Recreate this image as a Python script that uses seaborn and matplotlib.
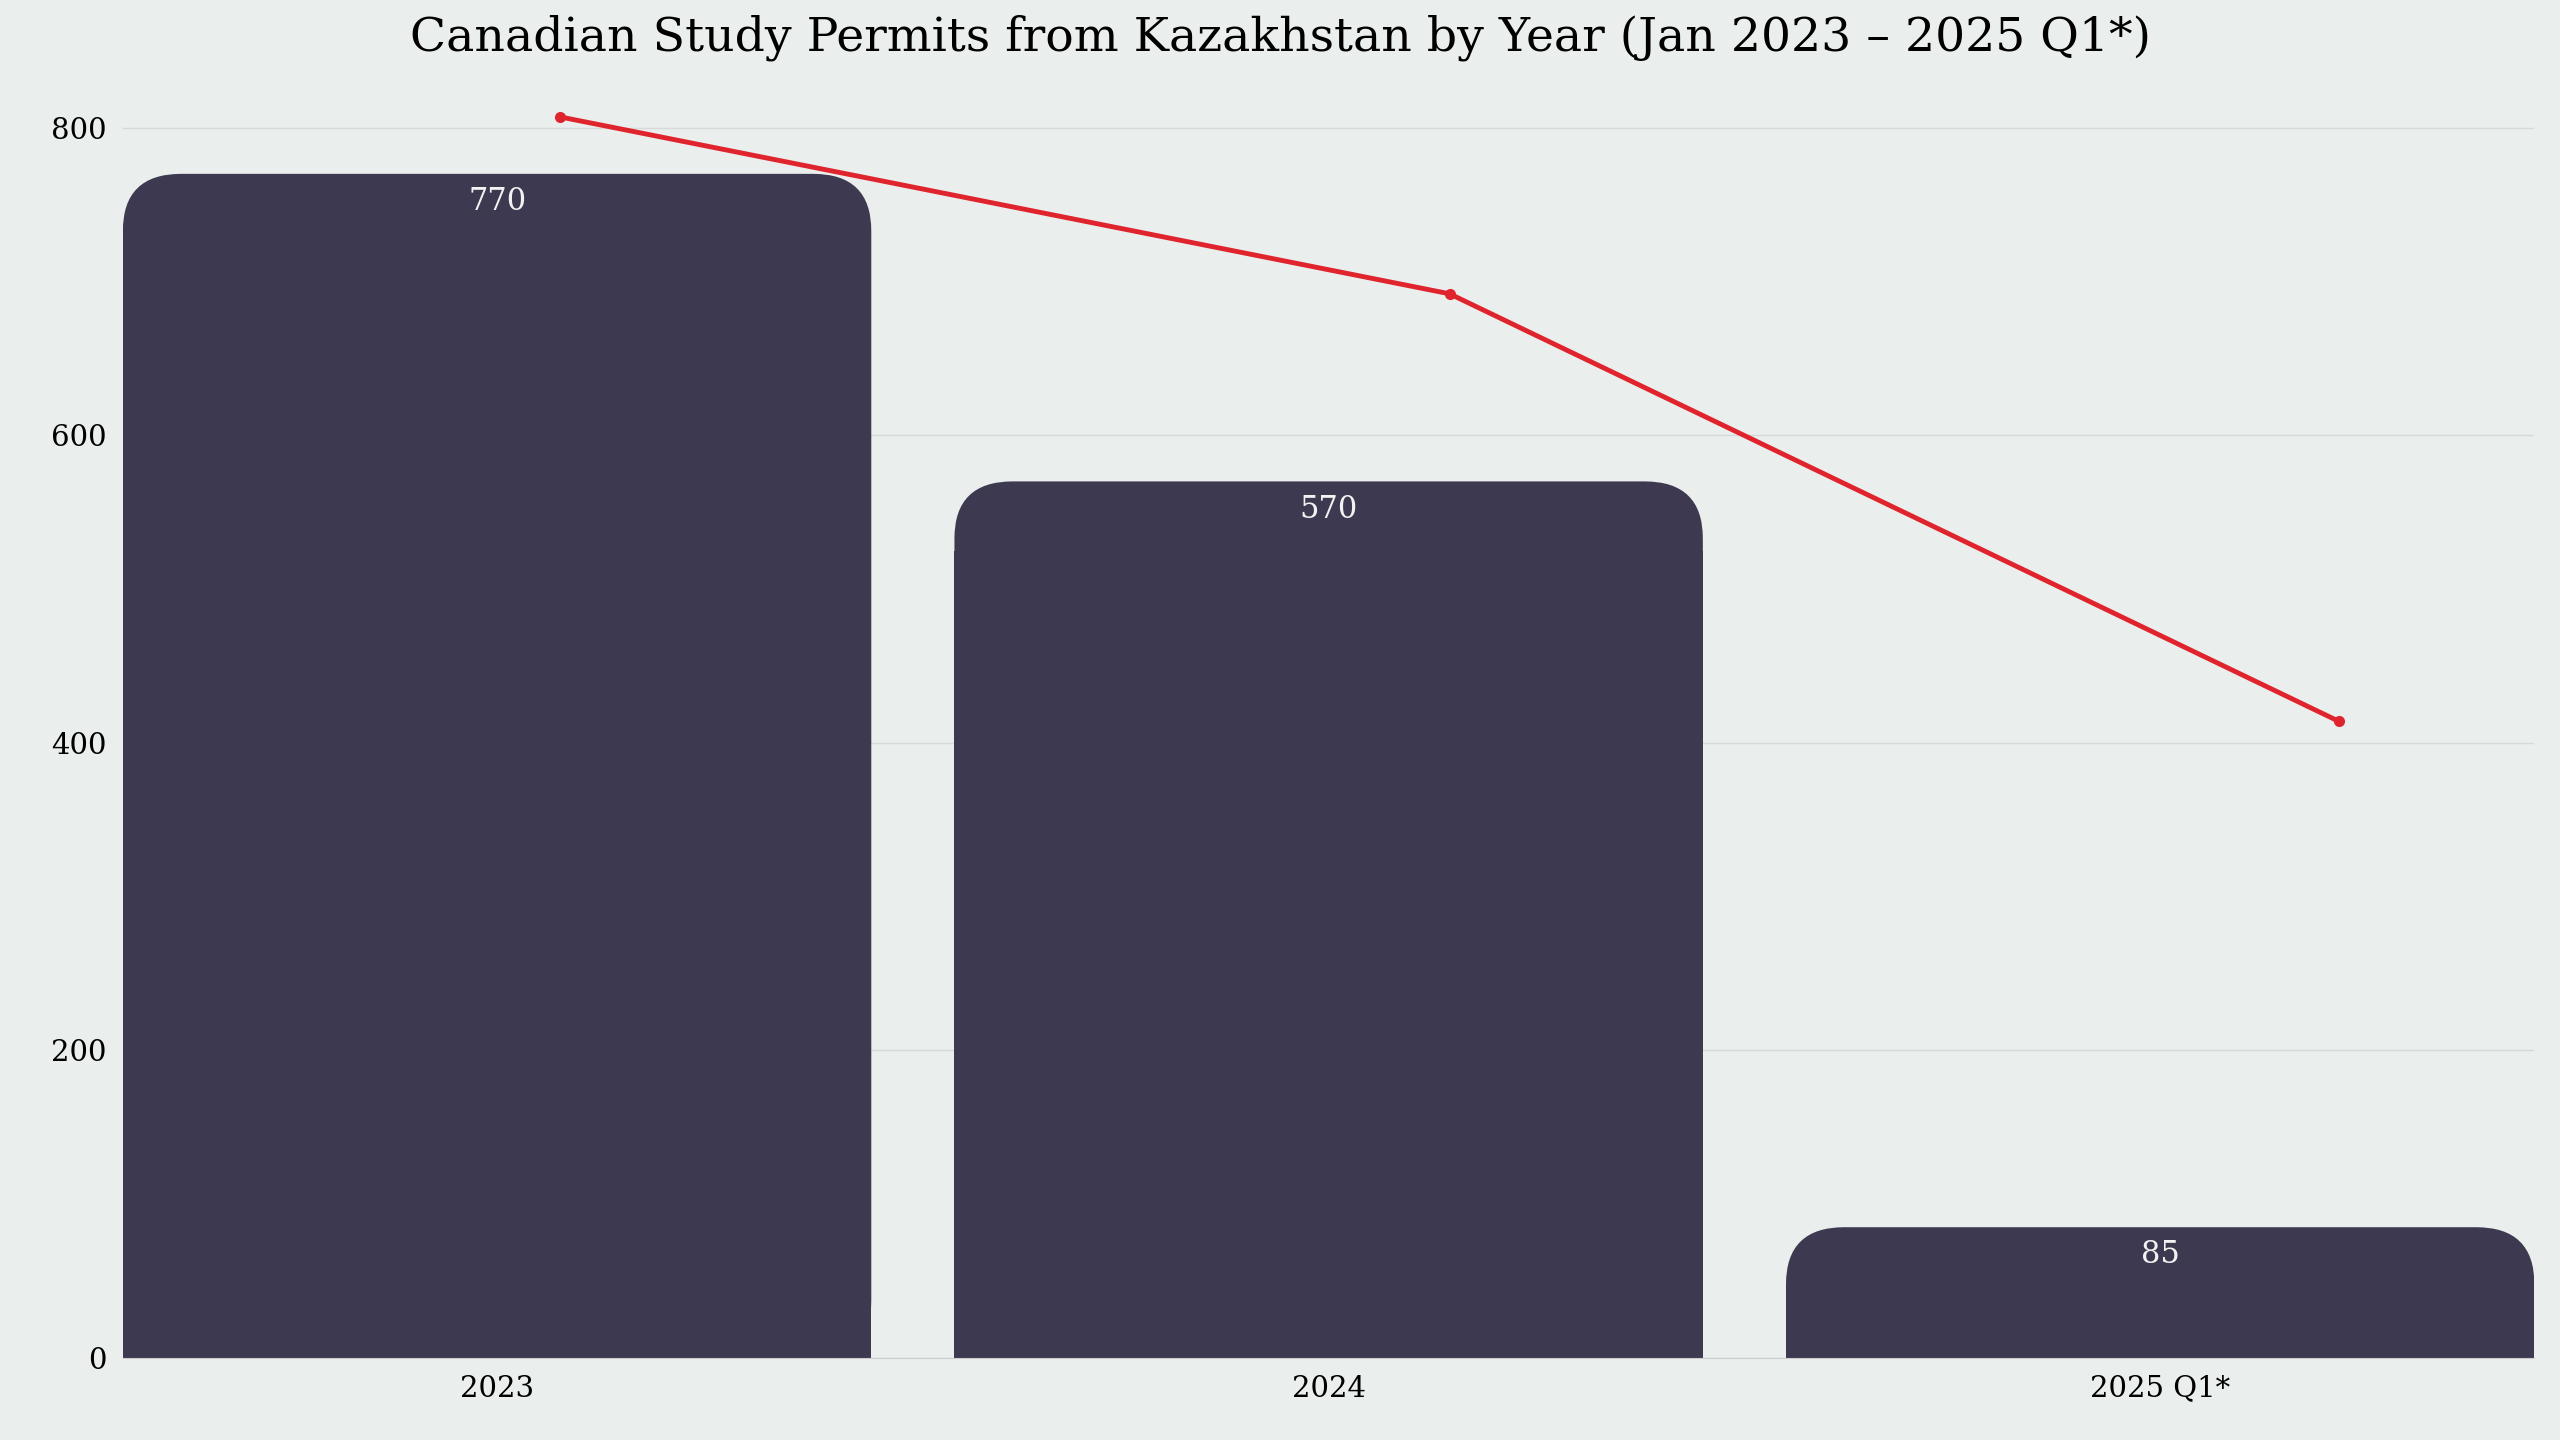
import matplotlib
matplotlib.use("Agg")
import matplotlib.pyplot as plt
import seaborn as sns
import pandas as pd
from matplotlib.patches import FancyBboxPatch, Rectangle

categories = ["2023", "2024", "2025 Q1*"]
permits = [770, 570, 85]
trend = [807, 692, 414]

BG = "#EAEEEC"
BAR = "#3D3950"
RED = "#E0242E"
plt.rcParams["font.family"] = "DejaVu Serif"

df = pd.DataFrame({"year": categories, "permits": permits})
fig = plt.figure(figsize=(25.6, 14.4), dpi=100, facecolor=BG)
ax = fig.add_axes([0.048, 0.057, 0.942, 0.881])
ax.set_facecolor(BG)
sns.barplot(data=df, x="year", y="permits", ax=ax, width=0.9, color=BAR)
ax.set_xlim(-0.45, 2.45)
ax.set_ylim(0, 825)

# replace bars with top-rounded versions
bars = list(ax.patches)
r = 0.07
for p in bars:
    x0, w, h = p.get_x(), p.get_width(), p.get_height()
    p.set_visible(False)
    fb = FancyBboxPatch((x0, 0), w, h, boxstyle=f"round,pad=0,rounding_size={r}",
                        mutation_aspect=530, facecolor=BAR, edgecolor="none", zorder=2)
    ax.add_patch(fb)
    ax.add_patch(Rectangle((x0, 0), w, max(h - 45, 0), facecolor=BAR, edgecolor="none", zorder=2))
    ax.text(x0 + w / 2, h - 18, f"{int(h)}", ha="center", va="center",
            color="#F2F2F2", fontsize=22, zorder=3)

ax.yaxis.grid(True, color="#D5D9D7", linewidth=1)
ax.set_axisbelow(True)
for s in ["top", "right", "left"]:
    ax.spines[s].set_visible(False)
ax.spines["bottom"].set_color("#CCCCCC")
ax.tick_params(axis="both", length=0, labelsize=21, pad=12)
ax.set_yticks([0, 200, 400, 600, 800])
ax.set_xlabel("")
ax.set_ylabel("")

ax2 = ax.twiny()
ax2.set_xlim(-0.492, 2.22)
ax2.set_ylim(ax.get_ylim())
sns.lineplot(x=[0, 1, 2], y=trend, ax=ax2, color=RED, linewidth=3.5,
             marker="o", markersize=8, markeredgewidth=0, zorder=4)
ax2.axis("off")

fig.suptitle("Canadian Study Permits from Kazakhstan by Year (Jan 2023 – 2025 Q1*)",
             fontsize=34, y=0.99, va="top")
fig.savefig("out.png", dpi=100, facecolor=BG)
